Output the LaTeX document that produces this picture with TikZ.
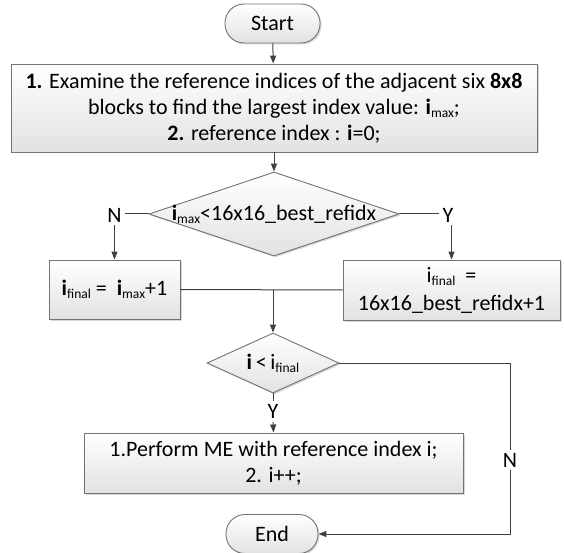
\documentclass[tikz,border=0pt]{standalone}
\usepackage{fontspec}
\setmainfont{Carlito}
\usetikzlibrary{shapes.geometric,arrows.meta,shadows}

\definecolor{linecol}{RGB}{64,64,64}
\definecolor{boxborder}{RGB}{115,115,115}
\definecolor{boxbottom}{RGB}{226,226,226}
% small lowered index, as in i_max
\newcommand\lowidx[1]{\raisebox{-0.28ex}{\fontsize{13.5}{14}\selectfont\mdseries #1}}

\begin{document}
\begin{tikzpicture}[x=1pt,y=-1pt,
  every node/.style={font=\fontsize{22}{26}\selectfont, text=black},
  line/.style={draw=linecol, line width=1pt},
  arr/.style={line, -{Triangle[length=8pt,width=6pt]}},
  boxfill/.style={draw=boxborder, line width=0.9pt, top color=white, bottom color=boxbottom,
    drop shadow={shadow xshift=1.5pt, shadow yshift=-1.5pt, fill=gray!60, opacity=0.5}},
  term/.style={boxfill, rectangle, rounded corners=19pt, minimum width=95pt, minimum height=39pt, inner sep=0pt},
  proc/.style={boxfill, rectangle, inner sep=0pt, align=center},
  dec/.style={boxfill, diamond, inner sep=0pt},
  lbl/.style={inner sep=3pt}
]
\useasboundingbox (0,0) rectangle (564,553);

% terminals
\node[term] (start) at (272.5,23.5) {Start};
\node[term, minimum width=92pt] (end) at (272,534) {End};

% initialisation block
\node[proc, minimum width=526pt, minimum height=88pt] (b1) at (274,108)
  {\textbf{1.} Examine the reference indices of the adjacent six \textbf{8x8}\\
   blocks to find the largest index value: \textbf{i}\lowidx{max};\\
   \textbf{2.} reference index : \textbf{i}=0;};

% first decision
\node[dec, minimum width=250pt, minimum height=84pt] (d1) at (274,214) {};
\node (d1t) at (d1) {\textbf{i}\lowidx{max}<16x16\_best\_refidx};
\node[lbl] (n1) at (114.5,215) {N};
\node[lbl] (y1) at (448,215) {Y};

% the two assignments
\node[proc, minimum width=131pt, minimum height=59pt] (b2) at (114.5,289.5)
  {\textbf{i}\lowidx{final} = \ \textbf{i}\lowidx{max}+1};
\node[proc, minimum width=217pt, minimum height=60pt] (b3) at (451.5,290)
  {i\lowidx{final} \ =\\[2pt]16x16\_best\_refidx+1};
\coordinate (m) at (273,290);

% loop test
\node[dec, minimum width=132pt, minimum height=60pt] (d2) at (273,363) {};
\node (d2t) at (d2) {\textbf{i}\,<\,i\lowidx{final}};
\node[lbl] (y2) at (273,411.5) {Y};

% loop body
\node[proc, minimum width=379pt, minimum height=60pt] (b4) at (273.5,463)
  {1.Perform ME with reference index i;\\2. i++;};
\node[lbl] (n2) at (510,460) {N};

% connectors
\draw[arr] (start) -- (b1);
\draw[arr] (b1.south -| d1.north) -- (d1.north);
\draw[line] (d1.west) -- (d1.west -| n1.east);
\draw[line] (d1.east) -- (d1.east -| y1.west);
\draw[arr] (b2.north |- n1.south) -- (b2.north);
\draw[arr] (b3.north |- y1.south) -- (b3.north);
\draw[line] (b2.east) -- (b3.west);
\draw[arr] (m) -- (d2.north);
\draw[line] (d2.south) -- (y2.north);
\draw[arr] (y2.south) -- (b4.north);
\draw[line] (d2.east) -| (n2.north);
\draw[arr] (n2.south) |- (end.east);
\end{tikzpicture}
\end{document}
